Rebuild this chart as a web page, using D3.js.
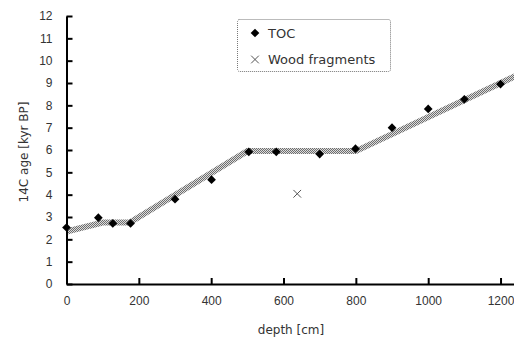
<!DOCTYPE html>
<html>
<head>
<meta charset="utf-8">
<script src="https://cdn.jsdelivr.net/npm/d3@7"></script>
<style>
  body { margin: 0; background: #fff; }
  svg { display: block; font-family: "Liberation Sans", Arial, sans-serif; }
</style>
</head>
<body>
<svg id="chart" width="514" height="337"></svg>
<script>
// TOC dates, depth in cm / age in kyr BP
const tocDepth = [0, 88, 128, 177, 300, 401, 504, 580, 700, 799, 900, 1000, 1100, 1200]
const tocAge = [2.53, 2.97, 2.71, 2.71, 3.8, 4.67, 5.92, 5.92, 5.82, 6.06, 7.0, 7.84, 8.27, 8.95]

// wood fragment date
const woodDepth = [638]
const woodAge = [4.04]

// age model (grey band)
const modelDepth = [0, 100, 175, 500, 800, 1240]
const modelAge = [2.35, 2.75, 2.75, 5.95, 5.95, 9.3]

const xTicks = [0, 200, 400, 600, 800, 1000, 1200]
const yTicks = d3.range(0, 13)

const svg = d3.select('#chart')

const x = d3.scaleLinear().domain([0, 1240]).range([66.5, 515])
const y = d3.scaleLinear().domain([0, 12]).range([284, 16])

// checker pattern to get the dithered grey of the band
const defs = svg.append('defs')
const pat = defs.append('pattern')
  .attr('id', 'dither')
  .attr('patternUnits', 'userSpaceOnUse')
  .attr('width', 2).attr('height', 2)
pat.append('rect').attr('width', 2).attr('height', 2).attr('fill', '#dcdcdc')
pat.append('rect').attr('width', 1).attr('height', 1).attr('fill', '#6e6e6e')
pat.append('rect').attr('x', 1).attr('y', 1).attr('width', 1).attr('height', 1).attr('fill', '#6e6e6e')

defs.append('clipPath').attr('id', 'plot')
  .append('rect').attr('x', 66).attr('y', 0).attr('width', 450).attr('height', 284)

// band
const line = d3.line().x(d => x(d[0])).y(d => y(d[1]))
svg.append('path')
  .attr('clip-path', 'url(#plot)')
  .attr('d', line(d3.zip(modelDepth, modelAge)))
  .attr('fill', 'none')
  .attr('stroke', 'url(#dither)')
  .attr('stroke-width', 6)

// axes
const yAxis = svg.append('g')
  .attr('transform', 'translate(66.5,0)')
  .call(d3.axisLeft(y).tickValues(yTicks).tickSizeInner(-6).tickSizeOuter(0).tickPadding(14))
const xAxis = svg.append('g')
  .attr('transform', 'translate(0,284)')
  .call(d3.axisBottom(x).tickValues(xTicks).tickFormat(d3.format('d'))
    .tickSizeInner(-6).tickSizeOuter(0).tickPadding(12))

;[xAxis, yAxis].forEach(g => {
  g.select('.domain').attr('stroke', '#000').attr('stroke-width', 2)
  g.selectAll('.tick line').attr('stroke', '#000').attr('stroke-width', 2)
  g.selectAll('.tick text').attr('fill', '#333').attr('font-size', 12)
    .attr('font-family', '"Liberation Sans", Arial, sans-serif')
})

// TOC points
const diamond = d3.symbol(d3.symbolSquare, 38)
svg.append('g').selectAll('path')
  .data(d3.zip(tocDepth, tocAge))
  .join('path')
  .attr('d', diamond)
  .attr('transform', d => `translate(${x(d[0])},${y(d[1])}) rotate(45)`)
  .attr('fill', '#000')

// wood point
const cross = d3.symbol(d3.symbolTimes, 40)
svg.append('g').selectAll('path')
  .data(d3.zip(woodDepth, woodAge))
  .join('path')
  .attr('d', cross)
  .attr('transform', d => `translate(${x(d[0])},${y(d[1])})`)
  .attr('fill', 'none')
  .attr('stroke', '#555')
  .attr('stroke-width', 1)

// axis titles
const titleFont = '"DejaVu Sans", Verdana, sans-serif'
svg.append('text')
  .attr('x', 291).attr('y', 334)
  .attr('text-anchor', 'middle')
  .attr('font-family', titleFont)
  .attr('font-size', 12).attr('fill', '#333')
  .text('depth [cm]')
svg.append('text')
  .attr('transform', 'translate(28,152) rotate(-90)')
  .attr('text-anchor', 'middle')
  .attr('font-family', titleFont)
  .attr('font-size', 12).attr('fill', '#333')
  .text('14C age [kyr BP]')

// legend
const leg = svg.append('g').attr('font-family', titleFont)
leg.append('rect')
  .attr('x', 237.5).attr('y', 19.5).attr('width', 153).attr('height', 52).attr('rx', 2)
  .attr('fill', '#fff')
  .attr('stroke', '#777').attr('stroke-dasharray', '1,1')
leg.append('path')
  .attr('d', diamond)
  .attr('transform', 'translate(255,33) rotate(45)')
  .attr('fill', '#000')
leg.append('path')
  .attr('d', cross)
  .attr('transform', 'translate(255,59.5)')
  .attr('fill', 'none').attr('stroke', '#555')
leg.append('text').attr('x', 268).attr('y', 37.5)
  .attr('font-size', 13).attr('fill', '#333').text('TOC')
leg.append('text').attr('x', 268).attr('y', 64)
  .attr('font-size', 13).attr('fill', '#333').text('Wood fragments')
</script>
</body>
</html>
